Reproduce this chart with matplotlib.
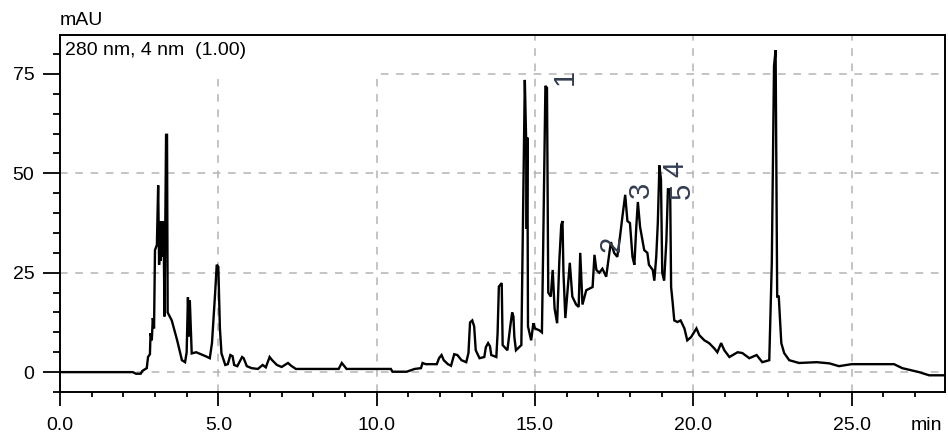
import matplotlib
matplotlib.use("Agg")
import matplotlib.pyplot as plt
from matplotlib.ticker import MultipleLocator, FixedLocator
from matplotlib.patches import Rectangle

plt.rcParams['font.family'] = ['Liberation Sans', 'DejaVu Sans']

# ---- data (retention time in min, signal in mAU) ----
rt = [0.0, 2.3, 2.4, 2.55, 2.6, 2.74, 2.78, 2.84, 2.86, 2.9, 2.93, 2.97, 3.0, 3.06,
      3.1, 3.13, 3.15, 3.18, 3.21, 3.24, 3.27, 3.3, 3.35, 3.38, 3.4, 3.53, 3.7, 3.85,
      3.95, 4.0, 4.04, 4.08, 4.1, 4.16, 4.3, 4.45, 4.6, 4.73, 4.8, 4.9, 4.95, 5.0,
      5.05, 5.1, 5.22, 5.3, 5.38, 5.45, 5.5, 5.6, 5.75, 5.8, 5.9, 6.05, 6.25, 6.4,
      6.5, 6.62, 6.7, 6.85, 7.0, 7.2, 7.3, 7.45, 8.8, 8.9, 9.05, 10.45, 10.5, 10.95,
      11.2, 11.4, 11.45, 11.55, 11.9, 11.97, 12.05, 12.12, 12.25, 12.35, 12.45, 12.55,
      12.68, 12.83, 12.9, 12.95, 13.02, 13.08, 13.13, 13.25, 13.4, 13.45, 13.52, 13.58,
      13.62, 13.78, 13.82, 13.86, 13.95, 13.98, 14.13, 14.22, 14.28, 14.32, 14.35, 14.4,
      14.57, 14.62, 14.68, 14.72, 14.74, 14.76, 14.78, 14.88, 14.95, 15.0, 15.14, 15.22,
      15.26, 15.33, 15.38, 15.42, 15.5, 15.56, 15.62, 15.7, 15.77, 15.83, 15.87, 15.9,
      15.96, 16.03, 16.1, 16.18, 16.3, 16.38, 16.43, 16.5, 16.62, 16.82, 16.88, 16.94,
      17.03, 17.13, 17.25, 17.35, 17.4, 17.5, 17.6, 17.67, 17.76, 17.85, 17.92, 18.0,
      18.08, 18.14, 18.2, 18.25, 18.32, 18.4, 18.45, 18.55, 18.6, 18.72, 18.77, 18.83,
      18.88, 18.93, 18.98, 19.02, 19.08, 19.15, 19.2, 19.27, 19.3, 19.35, 19.4, 19.5,
      19.6, 19.72, 19.81, 19.93, 20.1, 20.19, 20.35, 20.5, 20.66, 20.76, 20.88, 20.98,
      21.14, 21.4, 21.55, 21.77, 22.0, 22.18, 22.4, 22.48, 22.55, 22.6, 22.65, 22.7,
      22.78, 22.87, 23.03, 23.34, 23.9, 24.3, 24.6, 25.0, 26.34, 26.6, 27.13, 27.45,
      27.95]
mau = [0.0, 0.0, -0.4, -0.4, 0.3, 1.0, 3.8, 4.5, 9.8, 8.0, 13.6, 11.0, 30.7, 32.0,
       47.0, 27.0, 38.0, 28.0, 38.0, 29.0, 38.0, 14.0, 59.7, 59.7, 15.0, 13.0, 8.0, 3.0,
       2.5, 5.0, 18.8, 9.0, 18.0, 4.7, 5.0, 4.5, 4.0, 3.5, 7.3, 20.0, 27.0, 26.5,
       11.0, 4.7, 1.8, 2.0, 4.3, 4.0, 1.8, 1.5, 3.8, 3.5, 1.5, 1.0, 0.8, 1.8,
       1.2, 3.8, 3.0, 1.8, 1.3, 2.3, 1.6, 0.8, 0.8, 2.3, 0.8, 0.8, 0.1, 0.1,
       0.8, 1.0, 2.3, 2.0, 2.0, 3.5, 4.3, 3.0, 2.0, 1.6, 4.5, 4.3,
       3.0, 2.5, 4.8, 12.5, 13.0, 11.5, 5.5, 3.5, 3.8, 6.3, 7.3, 6.5,
       4.3, 3.8, 9.8, 21.5, 22.4, 6.8, 5.5, 11.5, 15.0, 14.0, 8.8, 5.5,
       6.8, 36.5, 73.5, 59.0, 36.0, 59.0, 11.5, 8.0, 12.3, 11.0, 10.5, 10.0,
       31.5, 72.0, 71.5, 20.0, 19.0, 25.7, 16.0, 12.3, 28.0, 37.0, 38.0, 25.0,
       13.6, 20.7, 27.5, 19.0, 17.0, 16.4, 30.0, 17.0, 20.6, 21.4, 29.5, 25.7,
       25.0, 26.0, 24.0, 30.0, 32.7, 30.0, 29.0, 33.0, 39.0, 44.6, 38.0, 37.5,
       29.0, 27.0, 36.5, 42.8, 36.5, 33.0, 30.7, 30.0, 27.0, 25.7, 23.0, 29.0,
       37.5, 52.0, 48.4, 25.0, 23.0, 33.0, 46.0, 46.0, 21.4, 17.4, 13.0, 12.6,
       13.0, 11.0, 8.0, 8.8, 11.0, 9.3, 8.0, 7.3, 6.0, 5.0, 7.3, 5.5,
       3.8, 5.0, 4.8, 3.5, 4.3, 2.5, 3.0, 27.5, 77.0, 81.0, 19.0, 19.0,
       7.3, 4.8, 3.0, 2.3, 2.5, 2.2, 1.5, 2.0, 2.0, 1.0, 0.0, -0.8,
       -0.8]

# peak labels (name, retention time, signal of label centre)
peak_names = ["1", "2", "3", "4", "5"]
peak_label_t = [15.93, 17.41, 18.36, 19.43, 19.65]
peak_label_v = [74.3, 32.2, 45.8, 51.2, 45.5]

x_major = [0, 5, 10, 15, 20, 25]
x_major_labels = ["0.0", "5.0", "10.0", "15.0", "20.0", "25.0"]
y_major = [0, 25, 50, 75]
y_major_labels = ["0", "25", "50", "75"]
x_lim = (0, 27.95)
y_lim = (-5, 84.8)

header_text = "280 nm, 4 nm  (1.00)"
y_unit = "mAU"
x_unit = "min"

# ---- figure ----
W, H = 948, 440
fig = plt.figure(figsize=(W / 100, H / 100), dpi=100)
ax = fig.add_axes([60 / W, 1 - 392 / H, (945 - 60) / W, (392 - 35) / H])

ax.plot(rt, mau, color="black", lw=1.7, zorder=3, solid_joinstyle="miter")

ax.set_xlim(*x_lim)
ax.set_ylim(*y_lim)

ax.xaxis.set_major_locator(FixedLocator(x_major))
ax.set_xticklabels(x_major_labels)
ax.xaxis.set_minor_locator(MultipleLocator(1))
ax.yaxis.set_major_locator(FixedLocator(y_major))
ax.set_yticklabels(y_major_labels)
ax.yaxis.set_minor_locator(MultipleLocator(5))

ax.tick_params(axis="x", which="major", direction="out", length=10, width=1.3,
               pad=8, labelsize=14, colors="black")
ax.tick_params(axis="x", which="minor", direction="out", length=3.5, width=1.3)
ax.tick_params(axis="y", which="major", direction="out", length=12.5, width=1.3,
               pad=6, labelsize=14)
ax.tick_params(axis="y", which="minor", direction="out", length=5, width=1.3)

for s in ax.spines.values():
    s.set_linewidth(1.4)
    s.set_color("black")

ax.set_axisbelow(True)
ax.grid(True, which="major", color="#b4b4b4", linestyle=(0, (5, 5)), linewidth=1.1)

# header area (no grid drawn there in the reference)
ax.add_patch(Rectangle((x_lim[0], y_major[3] - 1.2), x_major[2] + 0.06,
                       y_lim[1] - y_major[3] + 2, facecolor="white",
                       edgecolor="none", zorder=1))

for name, t, v in zip(peak_names, peak_label_t, peak_label_v):
    ax.text(t, v, name, rotation=90, ha="center", va="center", fontsize=21,
            color="#343c52", zorder=4)

fig.text(60 / W, 1 - 25 / H, y_unit, ha="left", va="baseline", fontsize=14)
fig.text(65 / W, 1 - 55 / H, header_text, ha="left", va="baseline", fontsize=14)
fig.text(942 / W, 1 - 425 / H, x_unit, ha="right", va="center", fontsize=14)

fig.savefig("out.png", dpi=100)
